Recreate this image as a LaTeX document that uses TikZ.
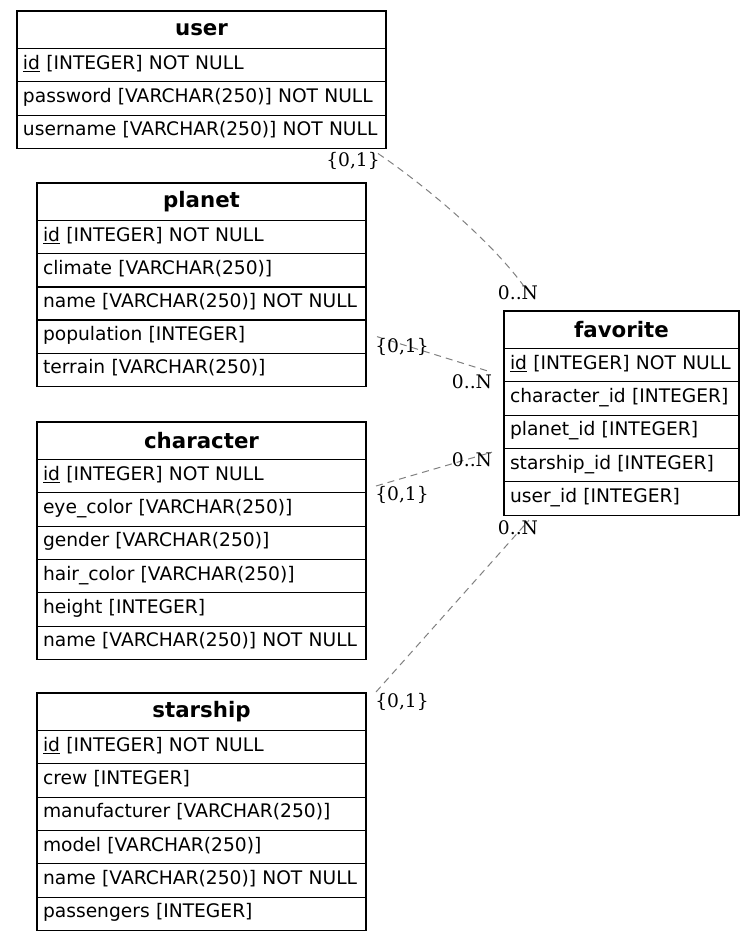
\documentclass[tikz,border=0pt]{standalone}
\usepackage{fontspec}
\setmainfont{DejaVu Sans}
\newfontfamily\cardfont{DejaVu Serif}
\usetikzlibrary{calc}

\newcommand\erdsize{\fontsize{18.67}{22}\selectfont}
\newcommand\erdheadsize{\fontsize{21.33}{25}\selectfont}

\tikzset{
 tablehead/.style={draw, line width=1.3pt, anchor=north west, outer sep=0pt, inner xsep=6pt, minimum height=37.5pt, align=center, font=\erdheadsize\bfseries},
 tablerow/.style={draw, line width=1.3pt, anchor=north west, outer sep=0pt, inner xsep=6pt, minimum height=33.33pt, text height=14pt, text depth=6pt, align=left, font=\erdsize},
 rel/.style={gray, line width=1pt, dash pattern=on 7pt off 5pt},
 card/.style={font=\erdsize\cardfont, inner sep=0pt}
}

\begin{document}
\begin{tikzpicture}[x=1pt, y=-1pt]
\useasboundingbox (0,0) rectangle (755,942);
% user
\node[tablehead, text width=357pt] (user) at (17,11) {user};
\foreach \r [count=\i] in {{\underline{id} [INTEGER] NOT NULL}, {password [VARCHAR(250)] NOT NULL}, {username [VARCHAR(250)] NOT NULL}}
 \node[tablerow, text width=357pt] (user-\i) at ({17},{48.5+(\i-1)*33.33}) {\mbox{\r}};
% planet
\node[tablehead, text width=317pt] (planet) at (37,183) {planet};
\foreach \r [count=\i] in {{\underline{id} [INTEGER] NOT NULL}, {climate [VARCHAR(250)]}, {name [VARCHAR(250)] NOT NULL}, {population [INTEGER]}, {terrain [VARCHAR(250)]}}
 \node[tablerow, text width=317pt] (planet-\i) at ({37},{220.5+(\i-1)*33.2}) {\mbox{\r}};
% character
\node[tablehead, text width=317pt] (character) at (37,422) {character};
\foreach \r [count=\i] in {{\underline{id} [INTEGER] NOT NULL}, {eye\_color [VARCHAR(250)]}, {gender [VARCHAR(250)]}, {hair\_color [VARCHAR(250)]}, {height [INTEGER]}, {name [VARCHAR(250)] NOT NULL}}
 \node[tablerow, text width=317pt] (character-\i) at ({37},{459.5+(\i-1)*33.33}) {\mbox{\r}};
% starship
\node[tablehead, text width=317pt] (starship) at (37,693) {starship};
\foreach \r [count=\i] in {{\underline{id} [INTEGER] NOT NULL}, {crew [INTEGER]}, {manufacturer [VARCHAR(250)]}, {model [VARCHAR(250)]}, {name [VARCHAR(250)] NOT NULL}, {passengers [INTEGER]}}
 \node[tablerow, text width=317pt] (starship-\i) at ({37},{730.5+(\i-1)*33.33}) {\mbox{\r}};
% favorite
\node[tablehead, text width=223pt] (favorite) at (504,311) {favorite};
\foreach \r [count=\i] in {{\underline{id} [INTEGER] NOT NULL}, {character\_id [INTEGER]}, {planet\_id [INTEGER]}, {starship\_id [INTEGER]}, {user\_id [INTEGER]}}
 \node[tablerow, text width=223pt] (favorite-\i) at ({504},{348.5+(\i-1)*33.33}) {\mbox{\r}};

% relations
\draw[rel] ([shift={(-8,5)}]user-3.south east) .. controls +(47,32) and +(-33,-45) .. ([shift={(19,-26)}]favorite.north west);
\draw[rel] ([shift={(11,-50)}]planet-5.south east) -- ([shift={(-13,61)}]favorite.north west);
\draw[rel] ([shift={(10,64)}]character.north east) -- ([shift={(-12,-63)}]favorite-5.south west);
\draw[rel] ([shift={(10,-1)}]starship.north east) -- ([shift={(25,5)}]favorite-5.south west);

\node[card] (user-one) at (353,161) {\{0,1\}};
\node[card] (user-many) at (518,293) {0..N};
\node[card] (planet-one) at (402,347) {\{0,1\}};
\node[card] (planet-many) at (472,382) {0..N};
\node[card] (character-one) at (402,495) {\{0,1\}};
\node[card] (character-many) at (472,460) {0..N};
\node[card] (starship-one) at (402,702) {\{0,1\}};
\node[card] (starship-many) at (518,528) {0..N};
\end{tikzpicture}
\end{document}
